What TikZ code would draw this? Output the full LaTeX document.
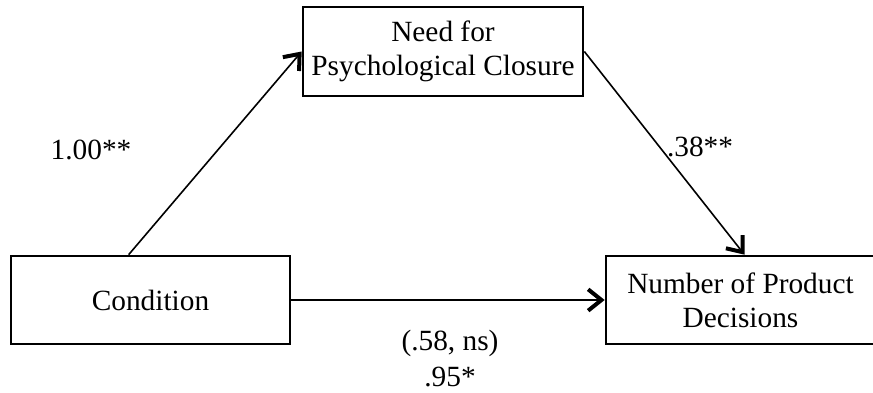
\documentclass[tikz,border=0pt]{standalone}
\usepackage{fontspec}
\setmainfont{Liberation Serif}
\usetikzlibrary{arrows.meta}

\begin{document}
\begin{tikzpicture}[x=0.75pt,y=0.75pt,yscale=-1,xscale=1,
    box/.style={draw,line width=2pt,align=center,inner sep=0pt,font=\fontsize{22}{25.5}\selectfont},
    lbl/.style={inner sep=0.75pt,align=center,font=\fontsize{22}{25.5}\selectfont},
    arr/.style={line width=1.2pt,-{Straight Barb[length=10pt,width=16pt,line width=3pt]}}]
    
    \useasboundingbox (0,0) rectangle (873,392);
    
    \node[box,minimum width=210pt,minimum height=66.75pt] (closure) at (443,51.5) {Need for\\Psychological Closure};
    \node[box,minimum width=209.25pt,minimum height=66pt] (condition) at (150.5,300) {Condition};
    \node[box,minimum width=201.75pt,minimum height=66pt] (decisions) at (740.5,300) {Number of Product\\Decisions};
    
    \draw[arr] ([xshift=89.25pt]condition.north west) -- (closure.west);
    \draw[arr] (closure.east) -- ([xshift=3pt]decisions.north);
    \draw[arr] (condition.east) -- (decisions.west);
    
    \node[lbl] (a) at (91,150) {1.00**};
    \node[lbl] (b) at (700,147) {.38**};
    \node[lbl] (c) at (450,343) {(.58, ns)};
    \node[lbl] (cp) at (450,377) {.95*};
    
\end{tikzpicture}
\end{document}
